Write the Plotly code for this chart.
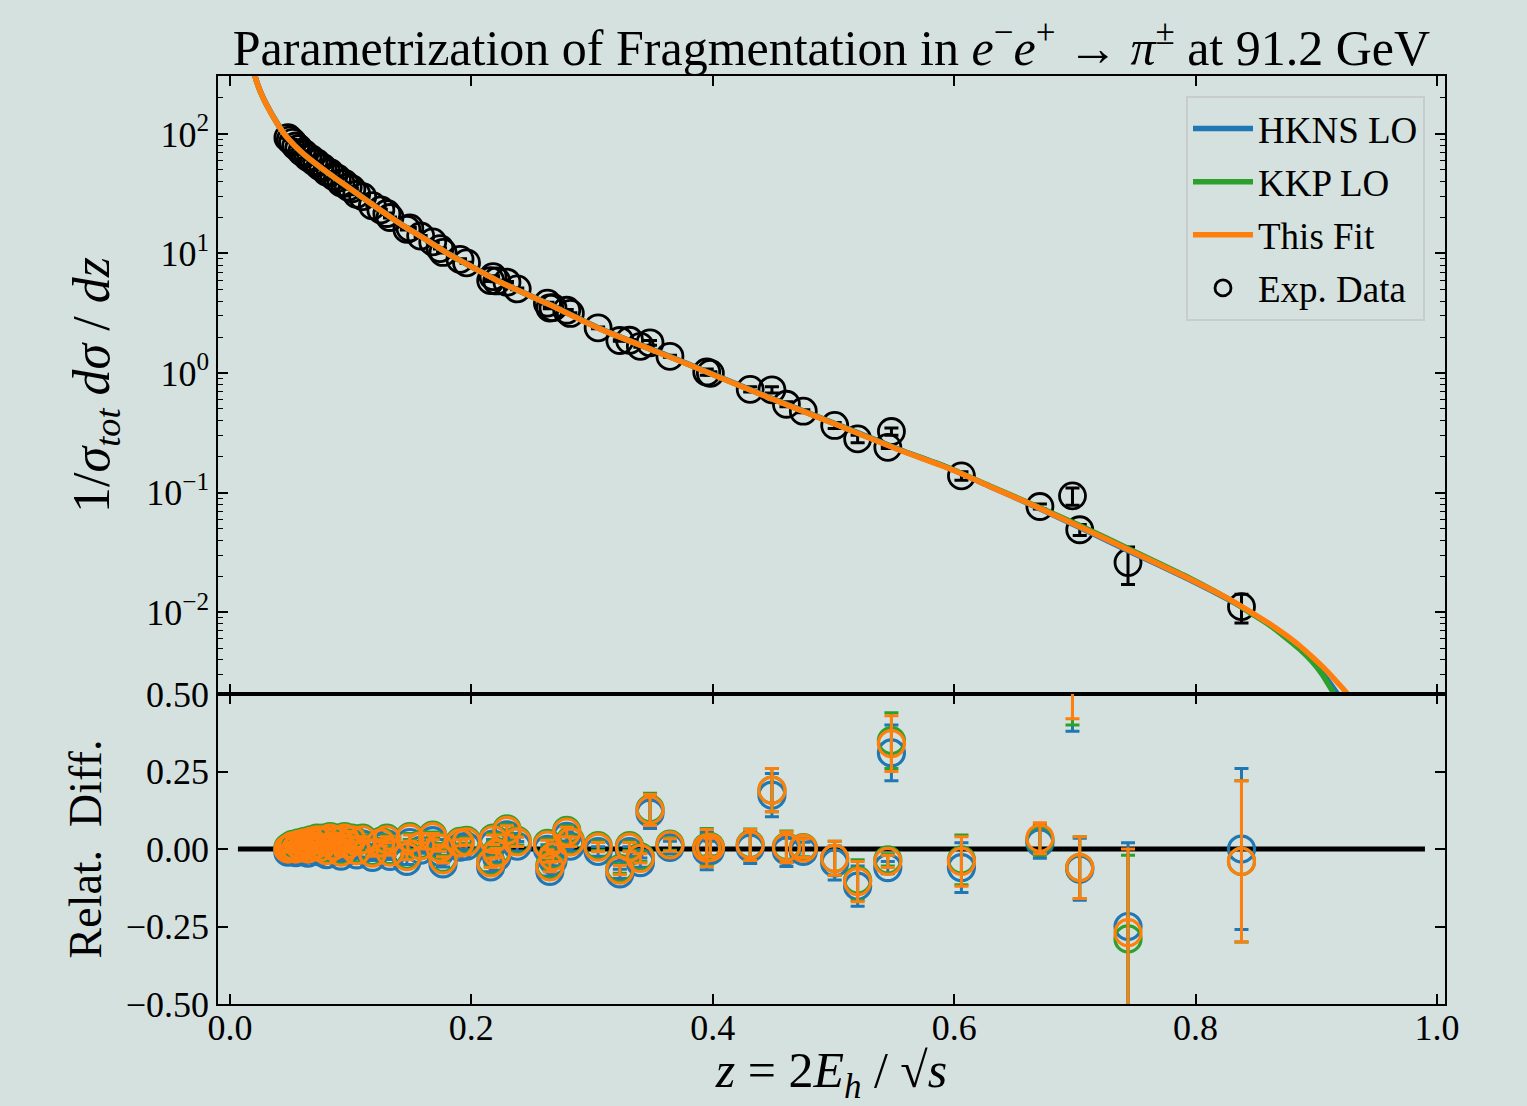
import plotly.graph_objects as go

# ---------------- data ----------------
# model curves (z, 1/sigma dsigma/dz)
z_fit = [0.018, 0.0207, 0.025, 0.030, 0.039, 0.047, 0.060, 0.075, 0.0886, 0.102,
         0.120, 0.143, 0.160, 0.182, 0.200, 0.224, 0.265, 0.3065, 0.3728, 0.440,
         0.4996, 0.555, 0.5965, 0.630, 0.665, 0.705, 0.748, 0.790, 0.831, 0.845,
         0.860, 0.873, 0.886, 0.896, 0.905, 0.914, 0.922, 0.935]
y_fit = [417, 305, 229, 178, 123, 94.4, 69.2, 52.5, 41.7, 33.5,
         24.8, 17.2, 13.5, 9.77, 7.76, 5.75, 3.72, 2.34, 1.26, 0.661,
         0.380, 0.226, 0.158, 0.112, 0.0785, 0.0513, 0.0318, 0.0200, 0.0123, 0.0101,
         0.00813, 0.00661, 0.00525, 0.00427, 0.00351, 0.00282, 0.00229, 0.00158]

z_hkns = [0.018, 0.0207, 0.025, 0.030, 0.039, 0.047, 0.060, 0.075, 0.0886, 0.102,
          0.120, 0.143, 0.160, 0.182, 0.200, 0.224, 0.265, 0.3065, 0.3728, 0.440,
          0.4996, 0.555, 0.5965, 0.630, 0.665, 0.705, 0.748, 0.790, 0.831, 0.845,
          0.860, 0.873, 0.886, 0.896, 0.905, 0.917, 0.930]
y_hkns = [420, 307, 230, 179, 124, 94.6, 69.4, 52.7, 41.9, 33.7,
          25.0, 17.3, 13.6, 9.82, 7.80, 5.79, 3.75, 2.36, 1.27, 0.667,
          0.384, 0.228, 0.159, 0.112, 0.0780, 0.0505, 0.0312, 0.0197, 0.0121, 0.0100,
          0.0080, 0.0064, 0.0050, 0.0040, 0.0031, 0.0021, 0.0013]

z_kkp = [0.018, 0.0207, 0.025, 0.030, 0.039, 0.047, 0.060, 0.075, 0.0886, 0.102,
         0.120, 0.143, 0.160, 0.182, 0.200, 0.224, 0.265, 0.3065, 0.3728, 0.440,
         0.4996, 0.555, 0.5965, 0.630, 0.665, 0.705, 0.748, 0.790, 0.831, 0.845,
         0.860, 0.873, 0.886, 0.896, 0.905, 0.912, 0.925]
y_kkp = [416, 304, 228, 178, 123, 94.2, 69.1, 52.4, 41.6, 33.4,
         24.7, 17.2, 13.5, 9.75, 7.75, 5.74, 3.72, 2.34, 1.26, 0.662,
         0.381, 0.227, 0.159, 0.113, 0.0795, 0.0525, 0.0326, 0.0204, 0.0122, 0.0099,
         0.00794, 0.0063, 0.0049, 0.0039, 0.0030, 0.0023, 0.00138]

# experimental data
z_data = [0.048, 0.050, 0.052, 0.0545, 0.057, 0.0595, 0.062, 0.0645, 0.067, 0.0695,
          0.072, 0.0745, 0.077, 0.080, 0.083, 0.086, 0.089, 0.092, 0.095, 0.098,
          0.101, 0.105, 0.110, 0.118, 0.125, 0.130, 0.1326, 0.1466, 0.149, 0.158,
          0.168, 0.174, 0.1765, 0.1906, 0.196, 0.216, 0.221, 0.218, 0.2295, 0.238,
          0.263, 0.265, 0.2676, 0.279, 0.282, 0.305, 0.323, 0.331, 0.340, 0.348,
          0.3645, 0.395, 0.398, 0.431, 0.449, 0.461, 0.475, 0.501, 0.520, 0.545,
          0.548, 0.606, 0.671, 0.698, 0.704, 0.744, 0.838]
y_data = [93.1, 89.1, 85.2, 79.3, 75.6, 70.4, 68.0, 63.7, 62.3, 58.7,
          57.2, 53.3, 52.2, 48.0, 47.4, 44.0, 42.6, 39.0, 38.6, 36.0,
          34.7, 31.3, 29.9, 25.1, 23.2, 21.6, 20.0, 15.9, 16.4, 14.0,
          12.5, 11.0, 10.2, 8.93, 8.36, 5.93, 5.89, 6.40, 5.75, 5.06,
          3.84, 3.50, 3.52, 3.35, 3.15, 2.39, 1.87, 1.88, 1.67, 1.79,
          1.38, 1.02, 0.994, 0.730, 0.724, 0.548, 0.479, 0.364, 0.281, 0.239,
          0.324, 0.138, 0.0764, 0.0938, 0.0488, 0.026, 0.0111]
y_err = [0.9, 0.9, 0.8, 0.8, 0.7, 0.7, 0.7, 0.6, 0.6, 0.6,
         0.6, 0.5, 0.5, 0.5, 0.5, 0.4, 0.4, 0.4, 0.4, 0.4,
         0.3, 0.3, 0.3, 0.3, 0.2, 0.2, 0.2, 0.2, 0.2, 0.15,
         0.12, 0.11, 0.1, 0.09, 0.08, 0.09, 0.09, 0.1, 0.08, 0.08,
         0.06, 0.05, 0.05, 0.05, 0.05, 0.04, 0.03, 0.03, 0.03, 0.08,
         0.027, 0.061, 0.03, 0.036, 0.043, 0.027, 0.014, 0.021, 0.020, 0.005,
         0.022, 0.0115, 0.0037, 0.0155, 0.0052, 0.009, 0.003]

# relative differences (data - model) / model
rd_hkns = [-0.010, -0.008, -0.005, -0.012, 0.002, -0.008, 0.006, -0.013, 0.012, -0.004,
           0.016, -0.009, 0.017, -0.018, 0.022, -0.003, 0.017, -0.023, 0.021, 0.001,
           0.016, -0.019, 0.016, -0.027, 0.006, 0.017, -0.024, -0.040, 0.021, -0.004,
           0.027, -0.011, -0.048, 0.006, 0.009, -0.058, -0.027, 0.016, 0.046, 0.009,
           -0.001, -0.072, -0.039, 0.041, 0.009, -0.008, -0.080, -0.008, -0.044, 0.116,
           0.005, -0.007, -0.005, 0.003, 0.174, -0.006, -0.008, -0.045, -0.12, -0.06,
           0.31, -0.06, 0.02, 0.66, -0.065, -0.25, 0.00]
rd_kkp = [0.005, 0.010, 0.015, 0.006, 0.020, 0.010, 0.025, 0.005, 0.030, 0.015,
          0.035, 0.010, 0.035, 0.000, 0.040, 0.015, 0.035, -0.005, 0.040, 0.020,
          0.035, 0.000, 0.035, -0.008, 0.025, 0.035, -0.005, -0.020, 0.040, 0.015,
          0.045, 0.008, -0.030, 0.025, 0.028, -0.040, -0.008, 0.035, 0.065, 0.028,
          0.018, -0.053, -0.020, 0.060, 0.028, 0.011, -0.063, 0.011, -0.025, 0.130,
          0.016, 0.006, 0.008, 0.015, 0.19, 0.008, 0.005, -0.03, -0.10, -0.035,
          0.35, -0.035, 0.03, 0.68, -0.06, -0.29, -0.04]
rd_fit = [0.000, 0.005, 0.010, 0.000, 0.015, 0.005, 0.020, 0.000, 0.025, 0.010,
          0.030, 0.005, 0.030, -0.005, 0.035, 0.010, 0.030, -0.010, 0.035, 0.015,
          0.030, -0.005, 0.030, -0.013, 0.020, 0.030, -0.010, -0.025, 0.035, 0.010,
          0.040, 0.003, -0.035, 0.020, 0.023, -0.045, -0.013, 0.030, 0.060, 0.023,
          0.013, -0.058, -0.025, 0.055, 0.023, 0.006, -0.068, 0.006, -0.030, 0.126,
          0.013, 0.003, 0.005, 0.013, 0.19, 0.006, 0.003, -0.03, -0.105, -0.04,
          0.34, -0.04, 0.035, 0.70, -0.06, -0.27, -0.04]
rd_err = [0.01] * 35 + [0.015] * 14 + [0.05, 0.02, 0.06, 0.03, 0.05, 0.07, 0.05, 0.03,
                                       0.055, 0.065, 0.02, 0.09, 0.08, 0.05, 0.28,
                                       0.10, 0.27, 0.26]

# axis ticks
x_ticks = [0.0, 0.2, 0.4, 0.6, 0.8, 1.0]
y_ticks = [1e-2, 1e-1, 1e0, 1e1, 1e2]
y_ticktext = ["10<sup>−2</sup>", "10<sup>−1</sup>", "10<sup>0</sup>", "10<sup>1</sup>", "10<sup>2</sup>"]
rd_ticks = [-0.5, -0.25, 0.0, 0.25, 0.5]

# ---------------- style ----------------
BG = "#d5e1de"
FONT = "Liberation Serif"
C_H, C_K, C_F = "#1f77b4", "#2ca02c", "#ff7f0e"
minor_vals = [k * 10.0 ** e for e in range(-3, 3) for k in range(2, 10)]

fig = go.Figure()

# top panel: data then curves
fig.add_trace(go.Scatter(
    x=z_data, y=y_data, mode="markers", name="Exp. Data",
    marker=dict(symbol="circle-open", size=26, color="black", line=dict(width=2.8, color="black")),
    error_y=dict(type="data", array=y_err, color="black", thickness=3, width=7),
    xaxis="x", yaxis="y", legendgroup="d", legendrank=4))
for zz, yy, col, nm, rk in [(z_hkns, y_hkns, C_H, "HKNS LO", 1),
                             (z_kkp, y_kkp, C_K, "KKP LO", 2),
                             (z_fit, y_fit, C_F, "This Fit", 3)]:
    fig.add_trace(go.Scatter(x=zz, y=yy, mode="lines", name=nm,
                             line=dict(color=col, width=5.5, shape="spline", smoothing=0.5),
                             xaxis="x", yaxis="y", legendgroup=nm, legendrank=rk))

# bottom panel
fig.add_trace(go.Scatter(x=[0.0066, 0.99], y=[0, 0], mode="lines", line=dict(color="black", width=5),
                         showlegend=False, xaxis="x2", yaxis="y2", hoverinfo="skip"))
for rr, col in [(rd_hkns, C_H), (rd_kkp, C_K), (rd_fit, C_F)]:
    fig.add_trace(go.Scatter(
        x=z_data, y=rr, mode="markers", showlegend=False,
        marker=dict(symbol="circle-open", size=26, color=col, line=dict(width=3.2, color=col)),
        error_y=dict(type="data", array=rd_err, color=col, thickness=3, width=7),
        xaxis="x2", yaxis="y2"))

axis_common = dict(showline=True, linecolor="black", linewidth=1.5, mirror="ticks",
                   ticks="inside", ticklen=10, tickwidth=1.5, tickcolor="black",
                   showgrid=False, zeroline=False,
                   tickfont=dict(family=FONT, size=36, color="black"))

fig.update_layout(
    width=1527, height=1106,
    paper_bgcolor=BG, plot_bgcolor=BG,
    margin=dict(l=218, r=82, t=76, b=102, autoexpand=False),
    font=dict(family=FONT, color="black"),
    title=dict(text="Parametrization of Fragmentation in <i>e</i><sup>−</sup><i>e</i><sup>+</sup> → <i>π</i><sup>±</sup> at 91.2 GeV",
               x=0.5, xref="paper", xanchor="center", y=1 - 47 / 1106, yref="container", yanchor="middle",
               font=dict(family=FONT, size=50, color="black")),
    xaxis=dict(axis_common, domain=[0, 1], anchor="y", range=[-0.0099, 1.0066], tickvals=x_ticks,
               showticklabels=False, matches="x2"),
    yaxis=dict(axis_common, domain=[0.334, 1], anchor="x", type="log", range=[-2.686, 2.485],
               tickvals=y_ticks, ticktext=y_ticktext,
               minor=dict(tickmode="array", tickvals=minor_vals, ticks="inside", ticklen=5,
                          tickwidth=1.2, tickcolor="black", showgrid=False),
               title=dict(text="1/<i>σ<sub>tot</sub> dσ</i> / <i>dz</i>", standoff=20,
                          font=dict(family=FONT, size=52, color="black"))),
    xaxis2=dict(axis_common, domain=[0, 1], anchor="y2", range=[-0.0099, 1.0066], tickvals=x_ticks,
                tickformat=".1f", ticklabelstandoff=-9,
                title=dict(text="<i>z</i> = 2<i>E<sub>h</sub></i> / √<i>s</i>", standoff=10,
                           font=dict(family=FONT, size=50, color="black"))),
    yaxis2=dict(axis_common, domain=[0, 0.334], anchor="x2", range=[-0.5, 0.5], tickvals=rd_ticks,
                tickformat=".2f",
                title=dict(text="Relat.  Diff.", standoff=10,
                           font=dict(family=FONT, size=46, color="black"))),
    legend=dict(x=0.9837, y=0.9784, xanchor="right", yanchor="top",
                bgcolor=BG, bordercolor="#c8cccb", borderwidth=2,
                font=dict(family=FONT, size=37, color="black"),
                tracegroupgap=2, itemwidth=60),
    showlegend=True,
)

fig.write_html("out.html", config={"displayModeBar": False},
               post_script="document.body.style.margin='0';document.body.style.background='#d5e1de';")
